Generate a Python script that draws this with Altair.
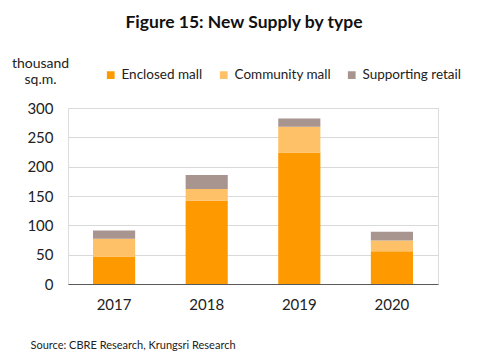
import altair as alt
import pandas as pd

years = ["2017", "2018", "2019", "2020"]
enclosed = [47, 142, 224, 56]
community = [30, 20, 44, 18]
supporting = [14, 24, 14, 15]
series = ["Enclosed mall", "Community mall", "Supporting retail"]
colors = ["#FF9900", "#FFC167", "#A89590"]

rows = []
for k, (name, vals) in enumerate(zip(series, [enclosed, community, supporting])):
    for y, v in zip(years, vals):
        rows.append({"year": y, "type": name, "value": v, "k": k})
df = pd.DataFrame(rows)

FONT = "Lato"

chart = alt.Chart(df).mark_bar().encode(
    x=alt.X("year:N", scale=alt.Scale(paddingInner=0.545, paddingOuter=0.27),
            axis=alt.Axis(title="Source: CBRE Research, Krungsri Research", labelAngle=0,
                          labelFontSize=15, labelFont=FONT, labelColor="#222222",
                          labelPadding=13, ticks=False, domainColor="#595959",
                          titleX=-38, titleY=66, titleAlign="left", titleAnchor="start",
                          titleFontSize=11, titleFontWeight="normal", titleFont=FONT,
                          titleColor="#222222", titleBaseline="bottom")),
    y=alt.Y("value:Q", stack="zero",
            scale=alt.Scale(domain=[0, 300], nice=False),
            axis=alt.Axis(values=[0, 50, 100, 150, 200, 250, 300], title=["thousand", "sq.m."],
                          titleAngle=0, titleX=-28, titleY=-52, titleAlign="center",
                          titleBaseline="top", titleFontSize=14, titleFontWeight="normal",
                          titleFont=FONT, titleColor="#222222", titleLineHeight=16,
                          labelFontSize=15, labelFont=FONT, labelColor="#222222",
                          labelPadding=15, ticks=False, domain=False,
                          gridColor="#D9D9D9", gridWidth=1)),
    color=alt.Color("type:N", scale=alt.Scale(domain=series, range=colors),
                    legend=alt.Legend(title=None, orient="none", direction="horizontal",
                                      legendX=36, legendY=-40, symbolType="square",
                                      symbolSize=60, symbolStrokeWidth=0,
                                      labelFontSize=13.5, labelFont=FONT, labelColor="#222222",
                                      labelOffset=4, columnPadding=14)),
    order=alt.Order("k:Q", sort="ascending"),
).properties(
    width=370,
    height=176,
    title=alt.TitleParams("Figure 15: New Supply by type", font=FONT, fontSize=17.5,
                          fontWeight="bold", color="#111111", anchor="middle",
                          frame="group", dx=-9, offset=25),
    autosize=alt.AutoSizeParams(type="none"),
    padding={"left": 60, "top": 100, "right": 32, "bottom": 70},
).configure_view(stroke=None).configure(background="white")

chart.save("out.html", embed_options={"renderer": "svg", "actions": False})
